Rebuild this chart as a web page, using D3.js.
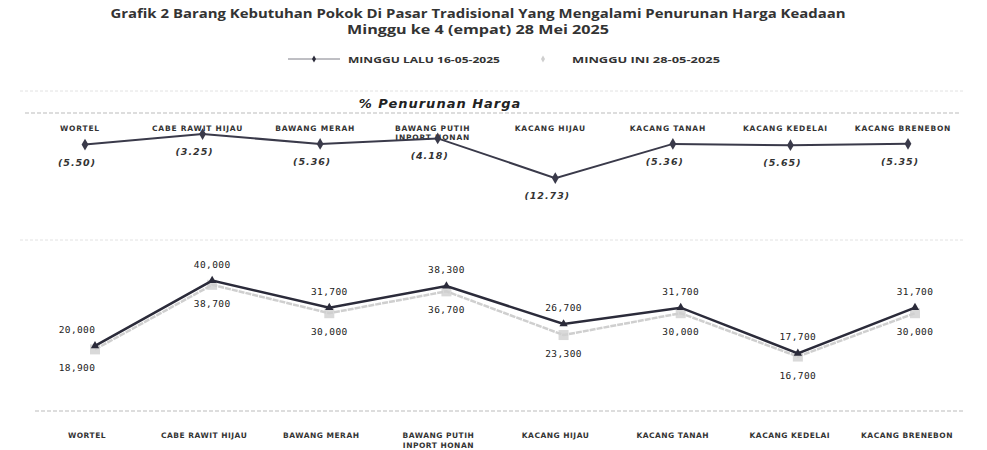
<!DOCTYPE html>
<html>
  <head>
    <meta charset="utf-8" />
    <style>
      body { margin: 0; background: #fff; }
    </style>
  </head>
  <body>

<svg id="graph"></svg>

<script src="https://d3js.org/d3.v7.min.js"></script>
<script>
  const WIDTH = 987;
  const HEIGHT = 450;

  // data
  const CATEGORIES = ['WORTEL', 'CABE RAWIT HIJAU', 'BAWANG MERAH', 'BAWANG PUTIH|INPORT HONAN',
    'KACANG HIJAU', 'KACANG TANAH', 'KACANG KEDELAI', 'KACANG BRENEBON'];
  const PERSEN = [-5.50, -3.25, -5.36, -4.18, -12.73, -5.36, -5.65, -5.35];
  const MINGGU_LALU = [20000, 40000, 31700, 38300, 26700, 31700, 17700, 31700];
  const MINGGU_INI = [18900, 38700, 30000, 36700, 23300, 30000, 16700, 30000];
  const SERIES = ['MINGGU LALU 16-05-2025', 'MINGGU INI 28-05-2025'];

  const DARK = '#2b2b3a';
  const LIGHT = '#cfcfcf';
  const SANS = '"Open Sans", sans-serif';
  const WIDE = '"DejaVu Sans", sans-serif';
  const MONO = '"DejaVu Sans Mono", monospace';

  const svg = d3.select('#graph').attr('width', WIDTH).attr('height', HEIGHT);
  const fmt = d3.format(',');
  const pct = v => '(' + d3.format('.2f')(Math.abs(v)) + ')';

  // title
  svg.append('text').attr('x', 478).attr('y', 18).attr('text-anchor', 'middle')
    .style('font-family', SANS).attr('font-size', 12.5).attr('font-weight', 700).attr('fill', '#333')
    .attr('textLength', 735).attr('lengthAdjust', 'spacingAndGlyphs')
    .text('Grafik 2 Barang Kebutuhan Pokok Di Pasar Tradisional Yang Mengalami Penurunan Harga Keadaan');
  svg.append('text').attr('x', 478).attr('y', 34).attr('text-anchor', 'middle')
    .style('font-family', SANS).attr('font-size', 12.5).attr('font-weight', 700).attr('fill', '#333')
    .attr('textLength', 262).attr('lengthAdjust', 'spacingAndGlyphs')
    .text('Minggu ke 4 (empat) 28 Mei 2025');

  // legend
  const lg = svg.append('g').attr('transform', 'translate(0,59)');
  lg.append('line').attr('x1', 288).attr('x2', 340).attr('stroke', DARK).attr('stroke-width', 1).attr('opacity', 0.6);
  lg.append('path').attr('d', d3.symbol(d3.symbolDiamond, 14)()).attr('transform', 'translate(314,0)').attr('fill', DARK);
  lg.append('text').attr('x', 348).attr('y', 3.5).style('font-family', SANS)
    .attr('font-size', 9.5).attr('font-weight', 700).attr('fill', '#333')
    .attr('textLength', 152).attr('lengthAdjust', 'spacingAndGlyphs').text(SERIES[0]);
  lg.append('path').attr('d', d3.symbol(d3.symbolDiamond, 14)()).attr('transform', 'translate(543,0)').attr('fill', LIGHT);
  lg.append('text').attr('x', 572).attr('y', 3.5).style('font-family', SANS)
    .attr('font-size', 9.5).attr('font-weight', 700).attr('fill', '#333')
    .attr('textLength', 148).attr('lengthAdjust', 'spacingAndGlyphs').text(SERIES[1]);

  // ---- top chart: % penurunan
  const xTop = d3.scalePoint().domain(CATEGORIES).range([85, 908]);
  const yTop = d3.scaleLinear().domain([-14, 0]).range([184, 119]);

  svg.append('line').attr('x1', 20).attr('x2', 965).attr('y1', 91).attr('y2', 91)
    .attr('stroke', '#e2e2e2').attr('stroke-dasharray', '3,2');
  svg.append('text').attr('x', 440).attr('y', 108).attr('text-anchor', 'middle')
    .style('font-family', WIDE).attr('font-size', 13).attr('font-weight', 700)
    .attr('font-style', 'italic').attr('letter-spacing', 1).attr('fill', '#222')
    .text('% Penurunan Harga');
  svg.append('line').attr('x1', 25).attr('x2', 960).attr('y1', 113).attr('y2', 113)
    .attr('stroke', '#bbb').attr('stroke-dasharray', '4,2');

  const topLabels = svg.append('g').selectAll('text').data(CATEGORIES).join('text')
    .attr('x', d => xTop(d)).attr('y', 131).attr('text-anchor', 'middle')
    .style('font-family', WIDE).attr('font-size', 7.5).attr('font-weight', 700)
    .attr('letter-spacing', 0.8).attr('fill', '#333');
  topLabels.each(function (d) {
    d.split('|').forEach((s, i) => d3.select(this).append('tspan')
      .attr('x', xTop(d) - 5).attr('dy', i ? 9 : 0).text(s));
  });

  const lineTop = d3.line().x((d, i) => xTop(CATEGORIES[i])).y(d => yTop(d));
  svg.append('path').datum(PERSEN).attr('d', lineTop).attr('fill', 'none')
    .attr('stroke', '#3a3a4a').attr('stroke-width', 2);
  svg.append('g').selectAll('path').data(PERSEN).join('path')
    .attr('d', d3.symbol(d3.symbolDiamond, 40)())
    .attr('transform', (d, i) => `translate(${xTop(CATEGORIES[i])},${yTop(d)})`)
    .attr('fill', '#3a3a4a');
  svg.append('g').selectAll('text').data(PERSEN).join('text')
    .attr('x', (d, i) => xTop(CATEGORIES[i]) - 8).attr('y', d => yTop(d) + 21)
    .attr('text-anchor', 'middle').style('font-family', WIDE).attr('font-size', 9.5)
    .attr('font-weight', 700).attr('font-style', 'italic').attr('letter-spacing', 1)
    .attr('fill', '#333').text(pct);

  // ---- bottom chart: harga
  const xBot = d3.scalePoint().domain(CATEGORIES).range([95, 915]);
  const yBot = d3.scaleLinear().domain([0, 50000]).range([411, 248]);

  svg.append('line').attr('x1', 20).attr('x2', 965).attr('y1', 240).attr('y2', 240)
    .attr('stroke', '#e2e2e2').attr('stroke-dasharray', '3,2');
  svg.append('line').attr('x1', 35).attr('x2', 965).attr('y1', yBot(0)).attr('y2', yBot(0))
    .attr('stroke', '#bbb').attr('stroke-dasharray', '4,2');

  const lineBot = d3.line().x((d, i) => xBot(CATEGORIES[i])).y(d => yBot(d));
  svg.append('path').datum(MINGGU_INI).attr('d', lineBot).attr('fill', 'none')
    .attr('stroke', LIGHT).attr('stroke-width', 2.5).attr('stroke-dasharray', '6,1');
  svg.append('g').selectAll('rect').data(MINGGU_INI).join('rect')
    .attr('x', (d, i) => xBot(CATEGORIES[i]) - 5).attr('y', d => yBot(d) - 5)
    .attr('width', 10).attr('height', 10).attr('fill', LIGHT).attr('opacity', 0.8);
  svg.append('path').datum(MINGGU_LALU).attr('d', lineBot).attr('fill', 'none')
    .attr('stroke', DARK).attr('stroke-width', 2.5);
  svg.append('g').selectAll('path').data(MINGGU_LALU).join('path')
    .attr('d', d3.symbol(d3.symbolTriangle, 30)())
    .attr('transform', (d, i) => `translate(${xBot(CATEGORIES[i])},${yBot(d)})`)
    .attr('fill', DARK);

  svg.append('g').selectAll('text').data(MINGGU_LALU).join('text')
    .attr('x', (d, i) => xBot(CATEGORIES[i]) - (i === 0 ? 18 : 0))
    .attr('y', d => yBot(d) - 13)
    .attr('text-anchor', 'middle').style('font-family', MONO).attr('font-size', 9.5)
    .attr('letter-spacing', 0.4).attr('fill', '#222')
    .text(fmt);
  svg.append('g').selectAll('text').data(MINGGU_INI).join('text')
    .attr('x', (d, i) => xBot(CATEGORIES[i]) - (i === 0 ? 18 : 0))
    .attr('y', d => yBot(d) + 22)
    .attr('text-anchor', 'middle').style('font-family', MONO).attr('font-size', 9.5)
    .attr('letter-spacing', 0.4).attr('fill', '#222')
    .text(fmt);

  const botLabels = svg.append('g').selectAll('text').data(CATEGORIES).join('text')
    .attr('y', 438).attr('text-anchor', 'middle')
    .style('font-family', WIDE).attr('font-size', 7.5).attr('font-weight', 700)
    .attr('letter-spacing', 0.5).attr('fill', '#333');
  botLabels.each(function (d) {
    d.split('|').forEach((s, i) => d3.select(this).append('tspan')
      .attr('x', xBot(d) - 8).attr('dy', i ? 10 : 0).text(s));
  });
</script>
  </body>
</html>
